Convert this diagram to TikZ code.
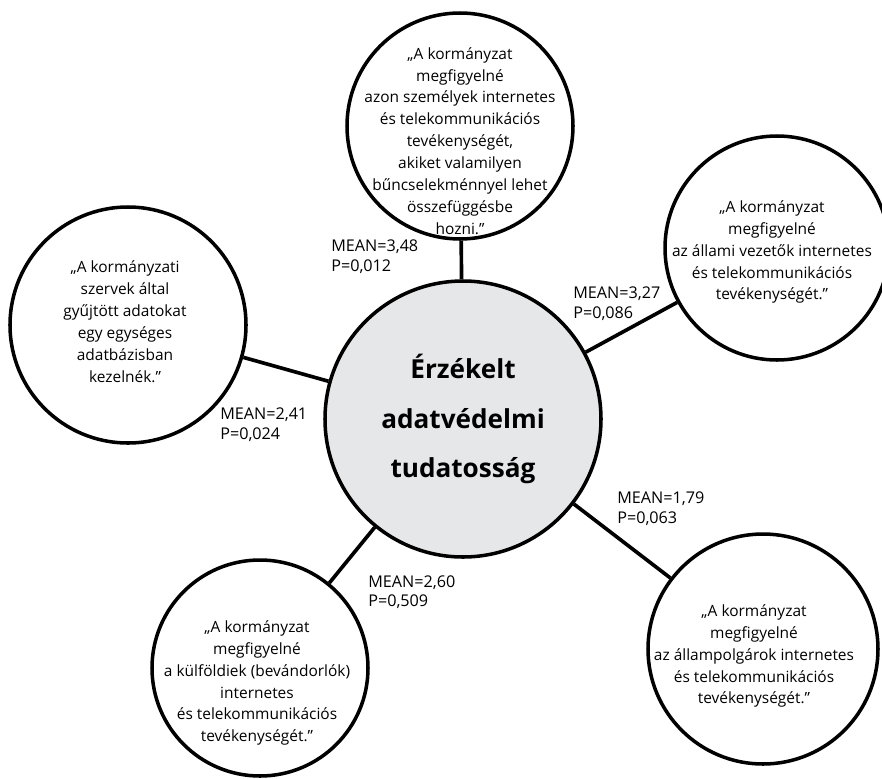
\documentclass[tikz,border=0pt]{standalone}
\usepackage{fontspec}
\setmainfont{Open Sans}
\usepackage{tikz}
\usetikzlibrary{positioning}
\definecolor{kozepszurke}{RGB}{230,231,232}

\begin{document}
\begin{tikzpicture}[
  bubble/.style={circle, draw=black, line width=2.5pt, inner sep=0pt},
  quote/.style={align=center, inner sep=0pt, font=\fontsize{11}{15.6}\selectfont},
  stat/.style={align=left, inner sep=0pt, anchor=north west, font=\fontsize{11.5}{13.9}\selectfont},
  link/.style={draw=black, line width=2.6pt}]
\useasboundingbox (0cm,0cm) rectangle (22.05cm,-19.45cm);
% circles
\node[bubble, fill=kozepszurke, minimum size=6.9cm, align=center, font=\fontsize{18.6}{35.5}\selectfont\bfseries] (0) at (11.575cm,-10.475cm) {Érzékelt\\adatvédelmi\\tudatosság};
\node[bubble, minimum size=5.65cm] (1) at (11.5cm,-3.15cm) {};
\node[bubble, minimum size=5.6cm] (2) at (19.425cm,-6.2cm) {};
\node[bubble, minimum size=5.9cm] (3) at (3.2cm,-8.125cm) {};
\node[bubble, minimum size=5.4cm] (4) at (6.5cm,-16.7cm) {};
\node[bubble, minimum size=5.75cm] (5) at (19.075cm,-16.225cm) {};
% texts
\node[quote] (t1) at (11.5cm,-3.525cm) {„A kormányzat\\megfigyelné\\azon személyek internetes\\és telekommunikációs\\tevékenységét,\\akiket valamilyen\\bűncselekménnyel lehet\\összefüggésbe\\hozni.”};
\node[quote] (t2) at (19.3cm,-6.3cm) {„A kormányzat\\megfigyelné\\az állami vezetők internetes\\és telekommunikációs\\tevékenységét.”};
\node[quote] (t3) at (3.125cm,-8.05cm) {„A kormányzati\\szervek által\\gyűjtött adatokat\\egy egységes\\adatbázisban\\kezelnék.”};
\node[quote] (t4) at (6.425cm,-17.075cm) {„A kormányzat\\megfigyelné\\a külföldiek (bevándorlók)\\internetes\\és telekommunikációs\\tevékenységét.”};
\node[quote] (t5) at (18.85cm,-16.4cm) {„A kormányzat\\megfigyelné\\az állampolgárok internetes\\és telekommunikációs\\tevékenységét.”};
% links
\draw[link] (0) -- (1);
\draw[link] (0) -- (2);
\draw[link] (0) -- (3);
\draw[link] (0) -- (4);
\draw[link] (0) -- (5);
% values
\node[stat] (m1) at (8.275cm,-6.0cm) {MEAN=3,48\\P=0,012};
\node[stat] (m2) at (14.325cm,-7.175cm) {MEAN=3,27\\P=0,086};
\node[stat] (m3) at (5.5cm,-10.2cm) {MEAN=2,41\\P=0,024};
\node[stat] (m4) at (9.2cm,-14.375cm) {MEAN=2,60\\P=0,509};
\node[stat] (m5) at (15.425cm,-12.3cm) {MEAN=1,79\\P=0,063};
\end{tikzpicture}
\end{document}
